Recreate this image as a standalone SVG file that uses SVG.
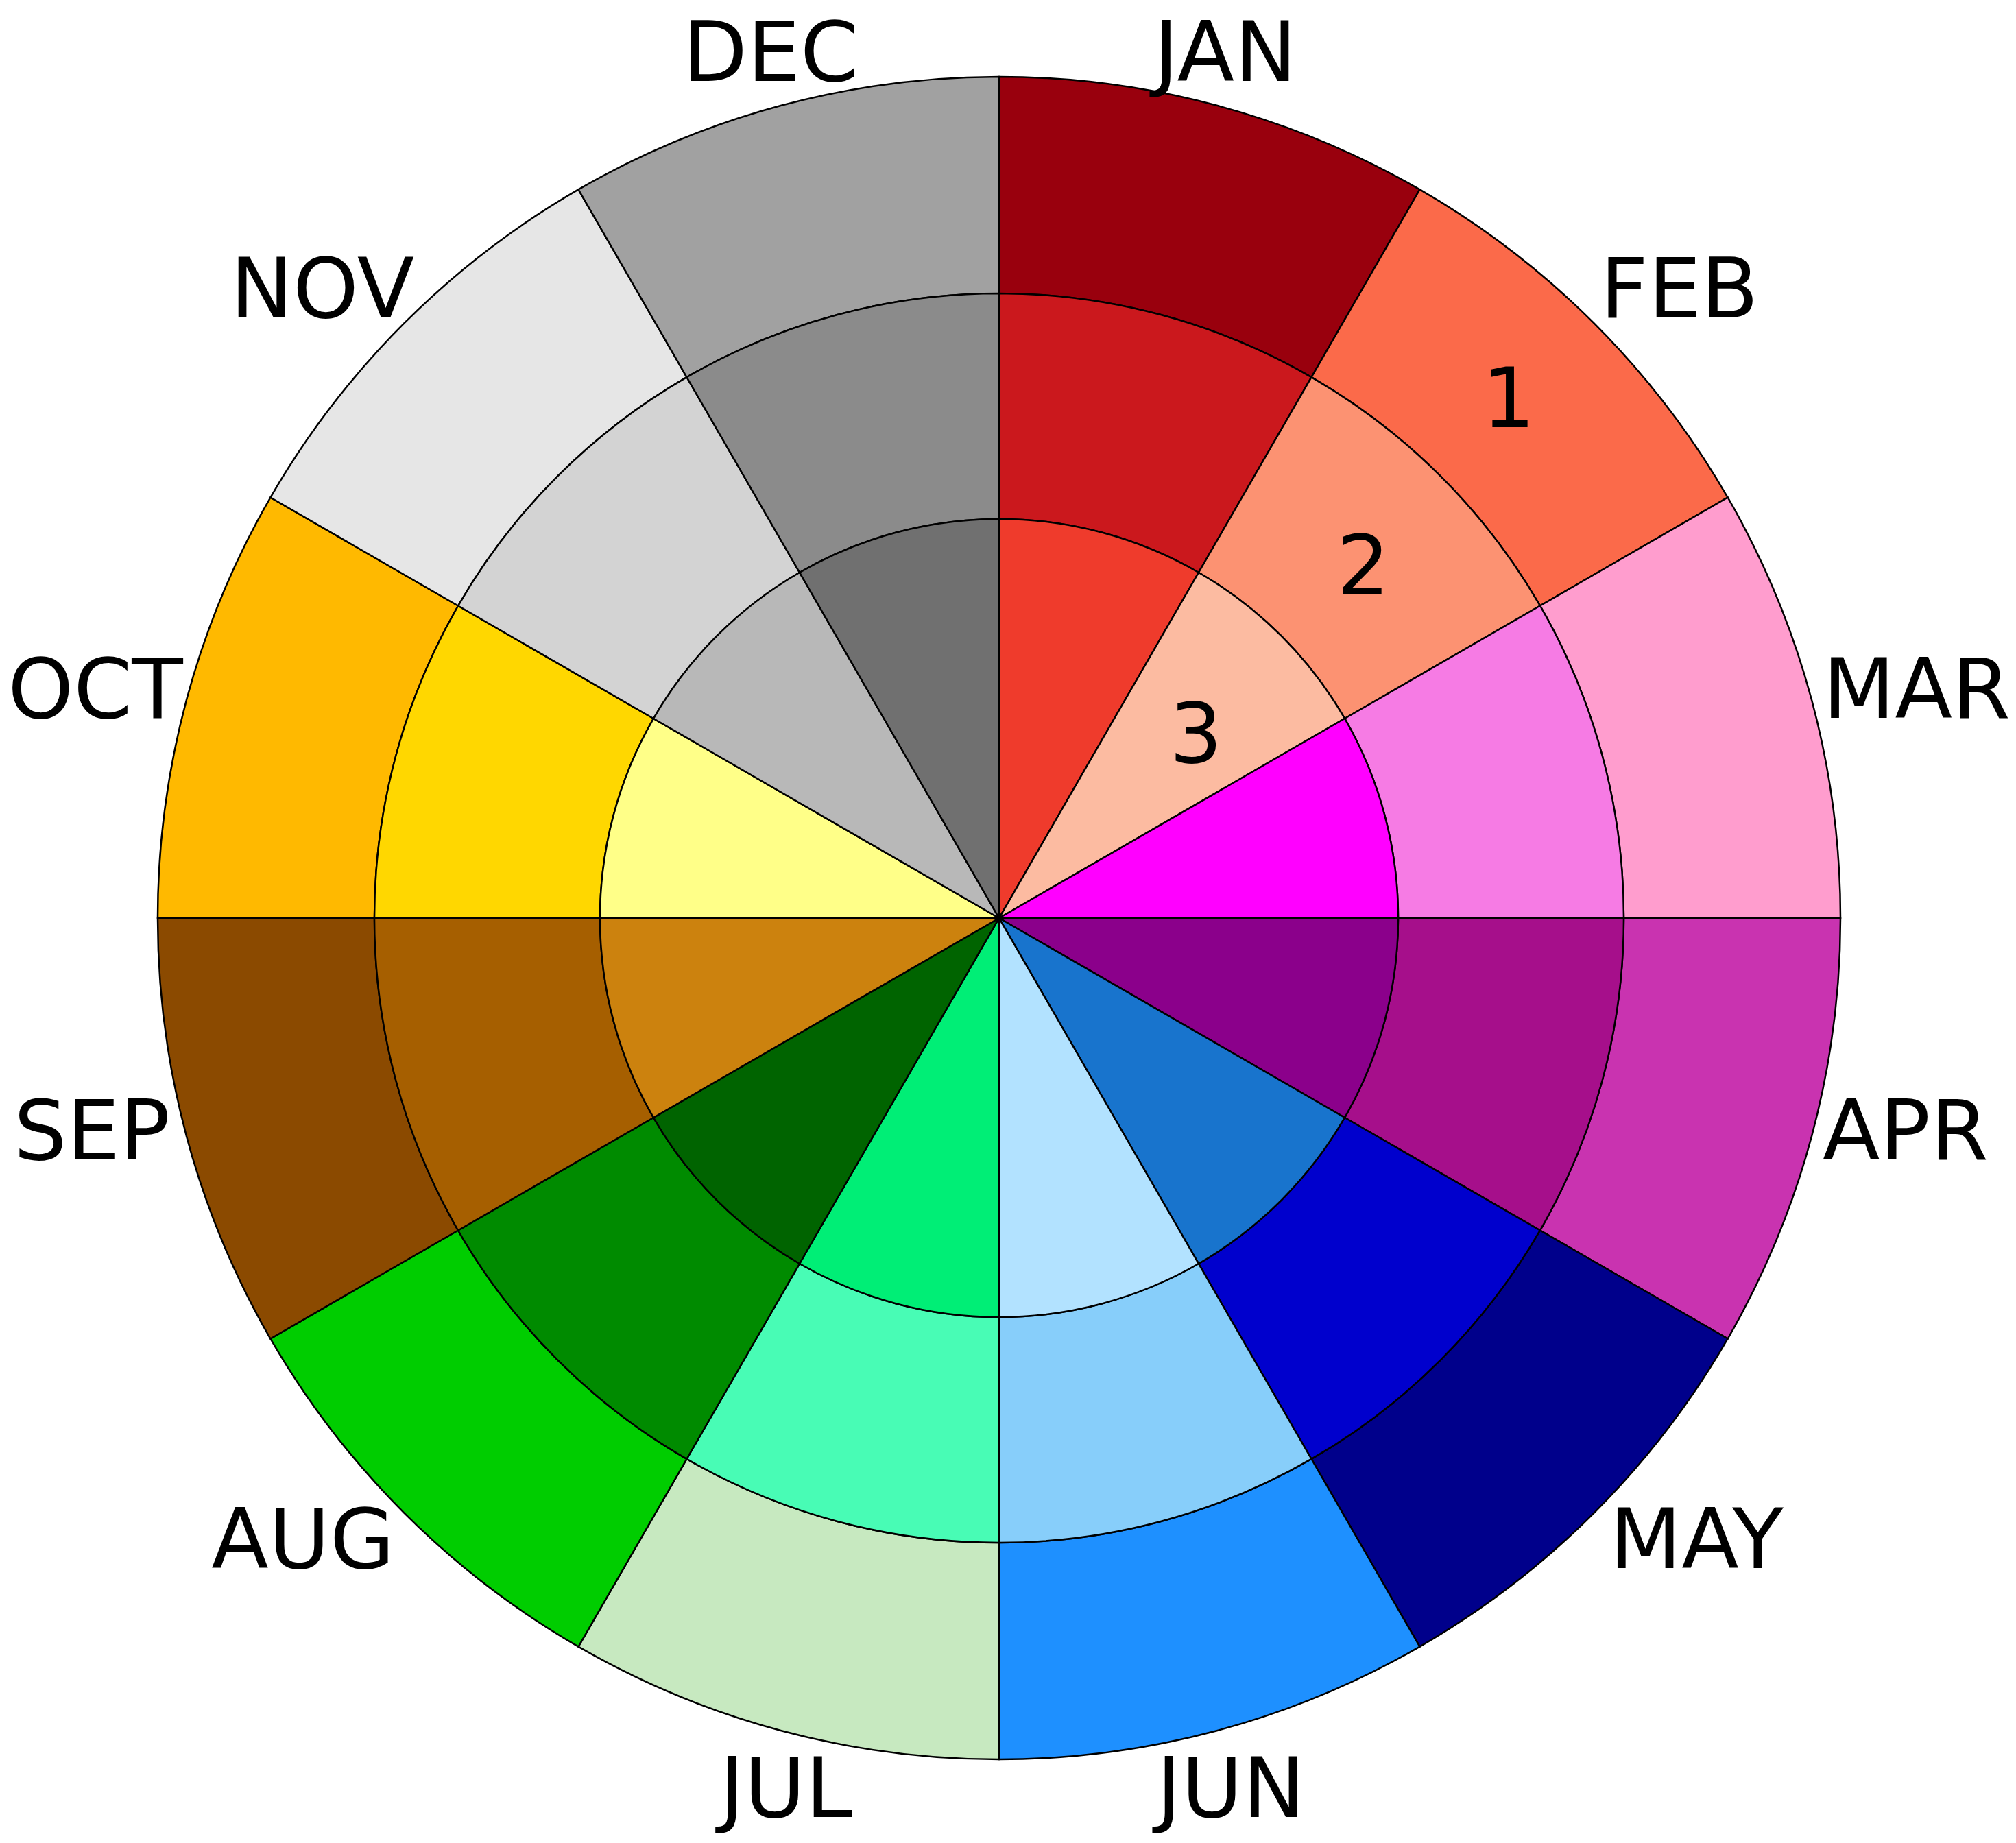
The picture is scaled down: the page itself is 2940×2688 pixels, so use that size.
<svg xmlns="http://www.w3.org/2000/svg" xmlns:xlink="http://www.w3.org/1999/xlink" width="2940" height="2688" viewBox="0 0 2940 2688">
<style>
.w{stroke:#000;stroke-width:2.5;stroke-linejoin:miter}
.lbl{font-family:"DejaVu Sans","Liberation Sans",sans-serif;font-size:122px;fill:#000;text-anchor:middle}
</style>
<defs>
<path id="r3" d="M1457,1339 L1457,757 A582,582 0 0 1 1748,834.97 Z"/>
<path id="r2" d="M1457,757 L1457,428 A911,911 0 0 1 1912.5,550.05 L1748,834.97 A582,582 0 0 0 1457,757 Z"/>
<path id="r1" d="M1457,428 L1457,112 A1227,1227 0 0 1 2070.5,276.39 L1912.5,550.05 A911,911 0 0 0 1457,428 Z"/>
</defs>
<rect width="2940" height="2688" fill="#fff"/>
<g id="JAN" transform="rotate(0 1457 1339)">
<use xlink:href="#r1" class="w" fill="#99000D"/><use xlink:href="#r2" class="w" fill="#CB181D"/><use xlink:href="#r3" class="w" fill="#EF3B2C"/>
</g>
<g id="FEB" transform="rotate(30 1457 1339)">
<use xlink:href="#r1" class="w" fill="#FB6A4A"/><use xlink:href="#r2" class="w" fill="#FC9272"/><use xlink:href="#r3" class="w" fill="#FCBBA1"/>
</g>
<g id="MAR" transform="rotate(60 1457 1339)">
<use xlink:href="#r1" class="w" fill="#FF9DCE"/><use xlink:href="#r2" class="w" fill="#F67BE4"/><use xlink:href="#r3" class="w" fill="#FF00FF"/>
</g>
<g id="APR" transform="rotate(90 1457 1339)">
<use xlink:href="#r1" class="w" fill="#C933B0"/><use xlink:href="#r2" class="w" fill="#A60F8B"/><use xlink:href="#r3" class="w" fill="#8B008B"/>
</g>
<g id="MAY" transform="rotate(120 1457 1339)">
<use xlink:href="#r1" class="w" fill="#00008B"/><use xlink:href="#r2" class="w" fill="#0000CD"/><use xlink:href="#r3" class="w" fill="#1874CD"/>
</g>
<g id="JUN" transform="rotate(150 1457 1339)">
<use xlink:href="#r1" class="w" fill="#1E90FF"/><use xlink:href="#r2" class="w" fill="#87CEFA"/><use xlink:href="#r3" class="w" fill="#B2E2FF"/>
</g>
<g id="JUL" transform="rotate(180 1457 1339)">
<use xlink:href="#r1" class="w" fill="#C7E9C0"/><use xlink:href="#r2" class="w" fill="#48FCB5"/><use xlink:href="#r3" class="w" fill="#00EE76"/>
</g>
<g id="AUG" transform="rotate(210 1457 1339)">
<use xlink:href="#r1" class="w" fill="#00CD00"/><use xlink:href="#r2" class="w" fill="#008B00"/><use xlink:href="#r3" class="w" fill="#006400"/>
</g>
<g id="SEP" transform="rotate(240 1457 1339)">
<use xlink:href="#r1" class="w" fill="#8B4A00"/><use xlink:href="#r2" class="w" fill="#A65F00"/><use xlink:href="#r3" class="w" fill="#CC820E"/>
</g>
<g id="OCT" transform="rotate(270 1457 1339)">
<use xlink:href="#r1" class="w" fill="#FFB900"/><use xlink:href="#r2" class="w" fill="#FFD700"/><use xlink:href="#r3" class="w" fill="#FFFF88"/>
</g>
<g id="NOV" transform="rotate(300 1457 1339)">
<use xlink:href="#r1" class="w" fill="#E6E6E6"/><use xlink:href="#r2" class="w" fill="#D3D3D3"/><use xlink:href="#r3" class="w" fill="#B8B8B8"/>
</g>
<g id="DEC" transform="rotate(330 1457 1339)">
<use xlink:href="#r1" class="w" fill="#A1A1A1"/><use xlink:href="#r2" class="w" fill="#8B8B8B"/><use xlink:href="#r3" class="w" fill="#707070"/>
</g>
<g id="connectors"></g>
<g id="labels">
<text class="lbl" x="1787" y="118">JAN</text>
<text class="lbl" x="2449" y="463">FEB</text>
<text class="lbl" x="2795" y="1047">MAR</text>
<text class="lbl" x="2779" y="1691">APR</text>
<text class="lbl" x="2474" y="2287">MAY</text>
<text class="lbl" x="1795" y="2650">JUN</text>
<text class="lbl" x="1146" y="2650">JUL</text>
<text class="lbl" x="442" y="2287">AUG</text>
<text class="lbl" x="134" y="1691">SEP</text>
<text class="lbl" x="139" y="1047">OCT</text>
<text class="lbl" x="470" y="463">NOV</text>
<text class="lbl" x="1124" y="118">DEC</text>
</g>
<g id="ring-numbers">
<text class="lbl" x="2200" y="623">1</text>
<text class="lbl" x="1988" y="867">2</text>
<text class="lbl" x="1744" y="1112">3</text>
</g>
</svg>
